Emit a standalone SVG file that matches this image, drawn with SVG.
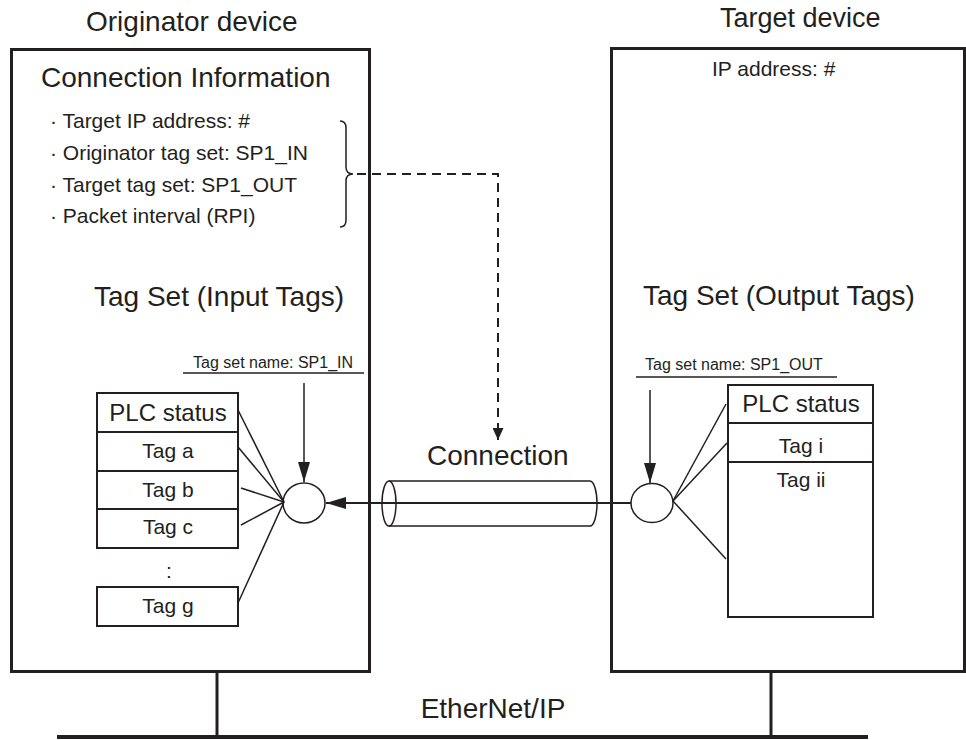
<svg xmlns="http://www.w3.org/2000/svg" width="966" height="740" viewBox="0 0 966 740">
<defs>
<style>
text{font-family:"Liberation Sans",Arial,sans-serif;fill:#231f20}
.t28{font-size:28px}
.t21{font-size:21px}
.t16{font-size:16px}
.box{fill:#fff;stroke:#231f20;stroke-width:3}
.cell{fill:#fff;stroke:#231f20;stroke-width:2}
.thin{fill:none;stroke:#231f20;stroke-width:1.5}
.mid{fill:none;stroke:#231f20;stroke-width:2}
.bus{fill:none;stroke:#231f20;stroke-width:4}
.drop{fill:none;stroke:#231f20;stroke-width:3}
.c{text-anchor:middle}
</style>
<marker id="ah" viewBox="0 0 20 12" refX="20" refY="6" markerWidth="20" markerHeight="12" markerUnits="userSpaceOnUse" orient="auto">
<path d="M0,0 L20,6 L0,12 z" fill="#231f20"/>
</marker>
<marker id="ahs" viewBox="0 0 12 11" refX="12" refY="5.5" markerWidth="12" markerHeight="11" markerUnits="userSpaceOnUse" orient="auto">
<path d="M0,0 L12,5.5 L0,11 z" fill="#231f20"/>
</marker>
</defs>
<rect width="966" height="740" fill="#fff"/>

<g id="network">
<line class="drop" x1="217" y1="672" x2="217" y2="737"/>
<line class="drop" x1="771" y1="672" x2="771" y2="737"/>
<line class="bus" x1="57" y1="737" x2="868" y2="737"/>
<text class="t28 c" x="493" y="718">EtherNet/IP</text>
</g>

<g id="originator">
<text class="t28" x="86" y="31">Originator device</text>
<rect class="box" x="11.5" y="49.5" width="358" height="622"/>
<text class="t28" x="41" y="87">Connection Information</text>
<text class="t21" x="50" y="128">· Target IP address: #</text>
<text class="t21" x="50" y="160">· Originator tag set: SP1_IN</text>
<text class="t21" x="50" y="192">· Target tag set: SP1_OUT</text>
<text class="t21" x="50" y="223">· Packet interval (RPI)</text>
<path class="thin" d="M340,121 Q346,121 346,128 L346,167 Q346,174 353,174 Q346,174 346,181 L346,220 Q346,227 340,227"/>
<text class="t28" x="94" y="306">Tag Set (Input Tags)</text>
<text class="t16" x="193" y="368">Tag set name: SP1_IN</text>
<line class="thin" x1="183" y1="373" x2="364" y2="373"/>
</g>

<g id="input-table">
<rect class="cell" x="97" y="393" width="141" height="39"/>
<rect class="cell" x="97" y="432" width="141" height="39"/>
<rect class="cell" x="97" y="471" width="141" height="38"/>
<rect class="cell" x="97" y="509" width="141" height="39"/>
<rect class="cell" x="97" y="587" width="141" height="39"/>
<text class="c" x="168" y="421" style="font-size:24px">PLC status</text>
<text class="t21 c" x="168" y="458">Tag a</text>
<text class="t21 c" x="168" y="497">Tag b</text>
<text class="t21 c" x="168" y="534">Tag c</text>
<text class="t21 c" x="169" y="578">:</text>
<text class="t21 c" x="168" y="613">Tag g</text>
</g>

<g id="input-node">
<ellipse class="thin" cx="304" cy="503" rx="21" ry="20"/>
</g>

<g id="target">
<text style="font-size:27px" x="720" y="27">Target device</text>
<rect class="box" x="611.5" y="48.5" width="353" height="623"/>
<text class="t21" x="712" y="76">IP address: #</text>
<text class="t28" x="643" y="305">Tag Set (Output Tags)</text>
<text class="t16" x="645" y="370">Tag set name: SP1_OUT</text>
<line class="thin" x1="636" y1="377" x2="837" y2="377"/>
</g>

<g id="output-table">
<rect class="cell" x="728" y="385" width="145" height="232"/>
<line class="cell" x1="728" y1="423" x2="873" y2="423"/>
<line class="cell" x1="728" y1="462" x2="873" y2="462"/>
<text class="c" x="801" y="412" style="font-size:24px">PLC status</text>
<text class="t21 c" x="801" y="453">Tag i</text>
<text class="t21 c" x="801" y="487">Tag ii</text>
</g>

<g id="output-node">
<ellipse class="thin" cx="652" cy="503" rx="21" ry="19.5"/>
</g>

<g id="cylinder">
<path class="thin" d="M389,481 L590,481 A7,22.5 0 0 1 590,526 L389,526"/>
<ellipse class="thin" cx="389" cy="503.5" rx="7" ry="22.5"/>
<text class="t28" x="427" y="465">Connection</text>
</g>

<g id="connectors">
<polyline class="mid" points="357,174 498,174 498,440" stroke-dasharray="9,6" marker-end="url(#ahs)"/>
<line class="mid" x1="631" y1="503" x2="326" y2="503" marker-end="url(#ah)"/>
<line class="thin" x1="304" y1="383" x2="304" y2="482" marker-end="url(#ah)"/>
<line class="thin" x1="650" y1="390" x2="650" y2="483" marker-end="url(#ah)"/>
<g class="thin">
<line x1="238" y1="410" x2="284" y2="502"/>
<line x1="238" y1="447" x2="284" y2="502"/>
<line x1="241" y1="488" x2="284" y2="502"/>
<line x1="241" y1="525" x2="284" y2="502"/>
<line x1="238" y1="603" x2="284" y2="502"/>
<line x1="673" y1="501" x2="726" y2="404"/>
<line x1="673" y1="501" x2="727" y2="443"/>
<line x1="673" y1="501" x2="726" y2="559"/>
</g>
</g>
</svg>
